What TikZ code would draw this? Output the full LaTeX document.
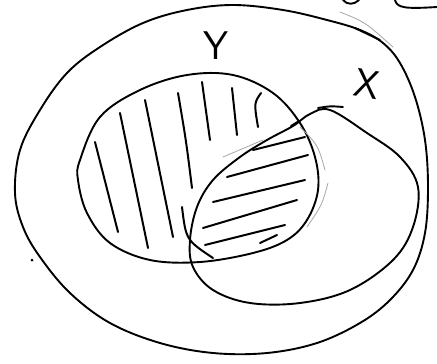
\documentclass[tikz,border=0pt]{standalone}
\begin{document}
\begin{tikzpicture}[x=1pt,y=-1pt,
  ink/.style={line width=1.9pt,line cap=round,line join=round,black},
  hatch/.style={line width=2pt,line cap=round,black},
  faint/.style={line width=0.8pt,line cap=round,black!35},
  lbl/.style={font=\sffamily\fontsize{40}{40}\selectfont,inner sep=0pt}]
\useasboundingbox (0,0) rectangle (437,364);
% outer region
\draw[ink] plot[smooth cycle,tension=0.6] coordinates {
(15,193)(20,150)(40,110)(67,73)(100,47)(143,23)(187,10)(233,5)(283,10)(327,20)(360,30)(383,43)(400,63)(415,97)(425,140)(428,187)(425,233)(413,270)(390,300)(360,323)(317,343)(267,353)(213,353)(160,343)(110,323)(70,293)(40,257)(23,227)};
\draw[faint] (340,12) .. controls (365,22) .. (393,47);
\draw[ink] (355,28) -- (380,40);
% set Y
\draw[ink] plot[smooth cycle,tension=0.6] coordinates {
(80,160)(100,117)(140,90)(187,75)(233,75)(273,93)(300,123)(315,157)(318,190)(307,220)(287,240)(253,253)(200,262)(150,260)(110,243)(87,213)(78,180)};
% set X
\draw[ink] plot[smooth cycle,tension=0.6] coordinates {
(330,110)(367,133)(400,157)(418,187)(413,227)(393,260)(350,290)(300,303)(250,303)(213,290)(193,267)(190,240)(197,207)(213,180)(240,157)(267,140)(293,126)(310,114)};
\draw[ink] (318,108) .. controls (330,106) .. (343,107);
\draw[ink] (291,126) -- (299,121);
% vertical hatching in Y
\draw[hatch] (95,142) -- (118,232);
\draw[hatch] (120,113) -- (148,248);
\draw[hatch] (145,100) -- (173,237);
\draw[hatch] (178,93) .. controls (186,140) .. (192,188);
\draw[hatch] (182,207) .. controls (186,240) .. (213,258);
\draw[hatch] (202,82) -- (210,140);
\draw[hatch] (232,88) -- (237,135);
\draw[hatch] (261,93) .. controls (254,103) .. (258,127);
% horizontal hatching in the overlap
\draw[hatch] (253,150) -- (305,137);
\draw[hatch] (227,177) -- (308,155);
\draw[hatch] (213,202) -- (305,180);
\draw[hatch] (203,228) -- (297,200);
\draw[hatch] (205,245) -- (285,225);
\draw[hatch] (260,243) -- (277,235);
% faint pencil strokes
\draw[faint] (223,157) -- (263,140);
\draw[faint] (300,127) .. controls (318,145) .. (325,170);
\draw[faint] (328,183) .. controls (322,205) .. (307,227);
% dot
\fill (32,260) circle (1.5pt);
% labels
\node[lbl] (ylbl) at (216,46) {Y};
\node[lbl,rotate=-10] (xlbl) at (367,84) {X};
% cut-off letters at the top
\draw[ink] (343,0) .. controls (347,5) and (354,5) .. (359,0);
\draw[ink] (395,0) .. controls (397,8) and (405,9) .. (437,7);
\end{tikzpicture}
\end{document}
